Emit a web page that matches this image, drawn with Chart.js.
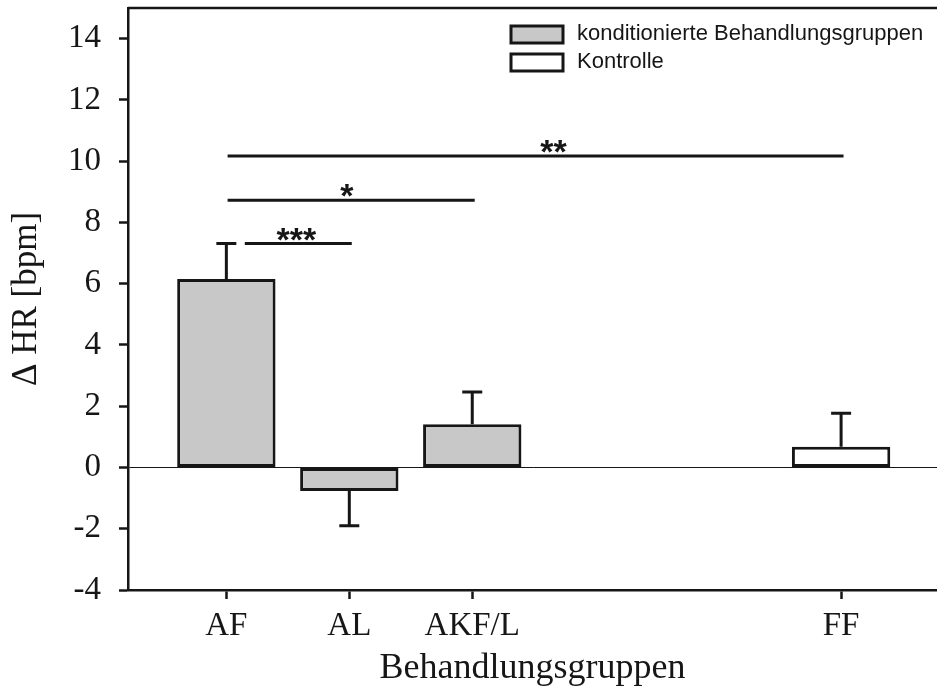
<!DOCTYPE html>
<html>
<head>
<meta charset="utf-8">
<script src="https://cdn.jsdelivr.net/npm/chart.js@4/dist/chart.umd.min.js"></script>
<style>
  html, body { margin: 0; padding: 0; background: #fff; }
  #wrap { width: 937px; height: 695px; }
</style>
</head>
<body>
<div id="wrap"><canvas id="chart" width="937" height="695"></canvas></div>
<script>
// group names and where they sit on the x axis
const groups = ["AF", "AL", "AKF/L", "FF"];
const groupPos = [1, 2, 3, 6];

// conditioned treatment groups (AF, AL, AKF/L)
const treatedMean = [6.15, -0.77, 1.41];
const treatedErr = [1.16, 1.13, 1.05];

// control (FF)
const controlMean = [0.68];
const controlErr = [1.09];

const yTicks = [-4, -2, 0, 2, 4, 6, 8, 10, 12, 14];

// significance brackets: from / to (x), height (y), stars, star position
const sigFrom = [1.15, 1.01, 1.01];
const sigTo = [2.02, 3.02, 6.02];
const sigY = [7.31, 8.72, 10.17];
const sigLabel = ["***", "*", "**"];
const sigLabelX = [1.57, 1.98, 3.66];

const ink = "#161616";

const errorBars = {
  id: "errorBars",
  afterDatasetsDraw(chart) {
    const ctx = chart.ctx;
    const y = chart.scales.y;
    ctx.save();
    ctx.strokeStyle = ink;
    ctx.lineWidth = 3;
    chart.data.datasets.forEach((ds, i) => {
      const meta = chart.getDatasetMeta(i);
      meta.data.forEach((bar, j) => {
        const m = ds.data[j].y;
        const e = ds.errors[j];
        const end = y.getPixelForValue(m >= 0 ? m + e : m - e);
        ctx.beginPath();
        ctx.moveTo(bar.x, bar.y);
        ctx.lineTo(bar.x, end);
        ctx.moveTo(bar.x - 10, end);
        ctx.lineTo(bar.x + 10, end);
        ctx.stroke();
      });
    });
    ctx.restore();
  }
};

const brackets = {
  id: "brackets",
  afterDatasetsDraw(chart) {
    const ctx = chart.ctx;
    const xs = chart.scales.x, ys = chart.scales.y;
    ctx.save();
    ctx.strokeStyle = ink;
    ctx.fillStyle = ink;
    ctx.lineWidth = 3;
    ctx.font = "bold 34px 'Liberation Sans', Arial, sans-serif";
    ctx.textAlign = "center";
    ctx.textBaseline = "alphabetic";
    sigY.forEach((v, i) => {
      const py = ys.getPixelForValue(v);
      ctx.beginPath();
      ctx.moveTo(xs.getPixelForValue(sigFrom[i]), py);
      ctx.lineTo(xs.getPixelForValue(sigTo[i]), py);
      ctx.stroke();
      ctx.fillText(sigLabel[i], xs.getPixelForValue(sigLabelX[i]), py + 7);
    });
    // top frame line
    const a = chart.chartArea;
    ctx.lineWidth = 2.5;
    ctx.beginPath();
    ctx.moveTo(a.left, a.top);
    ctx.lineTo(a.right, a.top);
    ctx.stroke();
    ctx.restore();
  }
};

const boxLegend = {
  id: "boxLegend",
  afterDraw(chart) {
    const ctx = chart.ctx;
    ctx.save();
    ctx.font = "22px 'Liberation Sans', Arial, sans-serif";
    ctx.textBaseline = "middle";
    ctx.textAlign = "left";
    chart.data.datasets.forEach((ds, i) => {
      const top = 26 + i * 28;
      ctx.fillStyle = ds.backgroundColor;
      ctx.fillRect(511, top, 52, 17);
      ctx.strokeStyle = ink;
      ctx.lineWidth = 3;
      ctx.strokeRect(511, top, 52, 17);
      ctx.fillStyle = ink;
      ctx.fillText(ds.label, 577, top + 8);
    });
    ctx.restore();
  }
};

const serif = "'Liberation Serif', 'Times New Roman', serif";

new Chart(document.getElementById("chart"), {
  type: "bar",
  data: {
    datasets: [
      {
        label: "konditionierte Behandlungsgruppen",
        data: treatedMean.map((v, i) => ({ x: groupPos[i], y: v })),
        errors: treatedErr,
        backgroundColor: "#c8c8c8",
      },
      {
        label: "Kontrolle",
        data: controlMean.map((v, i) => ({ x: groupPos[3 + i], y: v })),
        errors: controlErr,
        backgroundColor: "#ffffff",
      },
    ],
  },
  options: {
    responsive: false,
    animation: false,
    layout: { padding: { top: 8, left: 0, right: 0, bottom: 0 } },
    datasets: {
      bar: {
        grouped: false,
        borderColor: ink,
        borderWidth: 3,
        borderSkipped: false,
        barPercentage: 0.8,
        categoryPercentage: 1,
      },
    },
    scales: {
      x: {
        type: "linear",
        min: 0.2,
        max: 6.78,
        offset: false,
        afterFit: (s) => {
          s.height = 105;
          s.paddingLeft = 0;
          s.paddingRight = 0;
        },
        afterBuildTicks: (s) => { s.ticks = groupPos.map((v) => ({ value: v })); },
        ticks: {
          color: ink,
          font: { family: serif, size: 33 },
          padding: 8,
          maxRotation: 0,
          callback: (v, i) => groups[i],
        },
        grid: {
          offset: false,
          drawOnChartArea: false,
          tickLength: 9,
          tickWidth: 2.5,
          tickColor: ink,
        },
        border: { color: ink, width: 2.5 },
        title: {
          display: true,
          text: "Behandlungsgruppen",
          color: ink,
          font: { family: serif, size: 36 },
          padding: { top: 0, bottom: 5 },
        },
      },
      y: {
        min: -4,
        max: 15,
        afterFit: (s) => {
          s.width = 128;
          s.paddingTop = 0;
          s.paddingBottom = 0;
        },
        afterBuildTicks: (s) => { s.ticks = yTicks.map((v) => ({ value: v })); },
        ticks: {
          color: ink,
          font: { family: serif, size: 33 },
          padding: 18,
        },
        grid: {
          color: (c) => (c.tick && c.tick.value === 0 ? ink : "transparent"),
          lineWidth: 1,
          tickLength: 9,
          tickWidth: 2.5,
          tickColor: ink,
        },
        border: { color: ink, width: 2.5 },
        title: {
          display: true,
          text: "Δ HR [bpm]",
          color: ink,
          font: { family: serif, size: 35 },
          padding: { top: 6, bottom: 0 },
        },
      },
    },
    plugins: {
      legend: { display: false },
      tooltip: { enabled: false },
    },
  },
  plugins: [errorBars, brackets, boxLegend],
});
</script>
</body>
</html>
